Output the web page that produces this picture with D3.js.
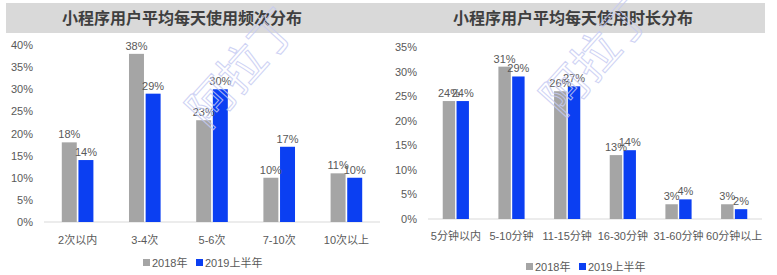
<!DOCTYPE html>
<html>
<head>
<meta charset="utf-8">
<script src="https://cdn.jsdelivr.net/npm/d3@7"></script>
<style>
  body { margin: 0; background: #fff; }
  svg { font-family: "Liberation Sans", "Noto Sans CJK SC", sans-serif; }
</style>
</head>
<body>
<script>
//#### DATA ####
var series = ["2018年", "2019上半年"];

var freqCats = ["2次以内", "3-4次", "5-6次", "7-10次", "10次以上"];
var freq2018 = [0.18, 0.38, 0.23, 0.10, 0.11];
var freq2019 = [0.14, 0.29, 0.30, 0.17, 0.10];

var timeCats = ["5分钟以内", "5-10分钟", "11-15分钟", "16-30分钟", "31-60分钟", "60分钟以上"];
var time2018 = [0.24, 0.31, 0.26, 0.13, 0.03, 0.03];
var time2019 = [0.24, 0.29, 0.27, 0.14, 0.04, 0.02];

var titles = ["小程序用户平均每天使用频次分布", "小程序用户平均每天使用时长分布"];
//##############

var colors = ["#a5a5a5", "#0b3ff2"];
var textColor = "#595959";

var svg = d3.select("body").append("svg")
  .attr("width", 777)
  .attr("height", 275);

// title band across both charts
svg.append("rect")
  .attr("x", 6).attr("y", 3)
  .attr("width", 759).attr("height", 30)
  .attr("fill", "#d9d9d9");

function drawChart(opt) {
  var g = svg.append("g");

  g.append("text")
    .attr("x", opt.titleX).attr("y", 24)
    .attr("text-anchor", "middle")
    .attr("font-family", "Noto Sans CJK SC")
    .attr("font-size", 16).attr("font-weight", "bold")
    .attr("fill", "#3f3f3f")
    .text(opt.title);

  var y = d3.scaleLinear()
    .domain([0, opt.yMax])
    .range([opt.bottom, opt.top]);

  var x0 = d3.scaleBand()
    .domain(opt.cats)
    .range([opt.left, opt.right])
    .paddingInner(0.48).paddingOuter(0.24);

  var x1 = d3.scaleBand()
    .domain(series)
    .range([0, x0.bandwidth()])
    .padding(0.1);

  // y tick labels
  var ticks = d3.range(0, opt.yMax + 0.001, 0.05);
  g.selectAll(".ytick")
    .data(ticks)
    .enter().append("text")
    .attr("x", opt.left - 11)
    .attr("y", function(d) { return y(d) + 4; })
    .attr("text-anchor", "end")
    .attr("font-size", 11)
    .attr("fill", textColor)
    .text(d3.format(".0%"));

  // baseline
  g.append("line")
    .attr("x1", opt.left).attr("x2", opt.right)
    .attr("y1", y(0)).attr("y2", y(0))
    .attr("stroke", "#d9d9d9");

  var rows = opt.cats.map(function(c, i) {
    return {cat: c, vals: [opt.a[i], opt.b[i]]};
  });

  var grp = g.selectAll(".grp")
    .data(rows)
    .enter().append("g")
    .attr("transform", function(d) { return "translate(" + x0(d.cat) + ",0)"; });

  grp.selectAll("rect")
    .data(function(d) { return d.vals.map(function(v, i) { return {s: series[i], v: v, i: i}; }); })
    .enter().append("rect")
    .attr("x", function(d) { return x1(d.s); })
    .attr("y", function(d) { return y(d.v); })
    .attr("width", x1.bandwidth())
    .attr("height", function(d) { return y(0) - y(d.v); })
    .attr("fill", function(d) { return colors[d.i]; });

  grp.selectAll(".val")
    .data(function(d) { return d.vals.map(function(v, i) { return {s: series[i], v: v}; }); })
    .enter().append("text")
    .attr("x", function(d) { return x1(d.s) + x1.bandwidth() / 2; })
    .attr("y", function(d) { return y(d.v) - 4; })
    .attr("text-anchor", "middle")
    .attr("font-size", 11)
    .attr("fill", textColor)
    .text(function(d) { return d3.format(".0%")(d.v); });

  // category labels
  g.selectAll(".cat")
    .data(opt.cats)
    .enter().append("text")
    .attr("x", function(d) { return x0(d) + x0.bandwidth() / 2; })
    .attr("y", opt.catY)
    .attr("text-anchor", "middle")
    .attr("font-size", 11)
    .attr("fill", textColor)
    .text(function(d) { return d; });

  // legend
  var leg = g.append("g")
    .attr("transform", "translate(" + opt.legX + "," + opt.legY + ")");
  var offs = [0, 53];
  series.forEach(function(s, i) {
    leg.append("rect")
      .attr("x", offs[i]).attr("y", -8)
      .attr("width", 7).attr("height", 7)
      .attr("fill", colors[i]);
    leg.append("text")
      .attr("x", offs[i] + 9).attr("y", 0)
      .attr("font-size", 11)
      .attr("fill", textColor)
      .text(s);
  });

  // watermark
  g.append("text")
    .attr("transform", "translate(" + opt.wmX + "," + opt.wmY + ") rotate(-48)")
    .attr("font-family", "Noto Sans CJK SC")
    .attr("font-size", 46)
    .attr("fill", "none")
    .attr("stroke", "#c6cbf3")
    .attr("stroke-width", 1)
    .attr("opacity", 0.85)
    .text("阿拉丁");
}

drawChart({
  title: titles[0], titleX: 182,
  cats: freqCats, a: freq2018, b: freq2019,
  yMax: 0.40, top: 45, bottom: 222, left: 44, right: 380,
  catY: 244, legX: 143, legY: 267, wmX: 208, wmY: 130
});

drawChart({
  title: titles[1], titleX: 573,
  cats: timeCats, a: time2018, b: time2019,
  yMax: 0.35, top: 47, bottom: 219, left: 428, right: 762,
  catY: 240, legX: 526, legY: 271, wmX: 562, wmY: 118
});
</script>
</body>
</html>
